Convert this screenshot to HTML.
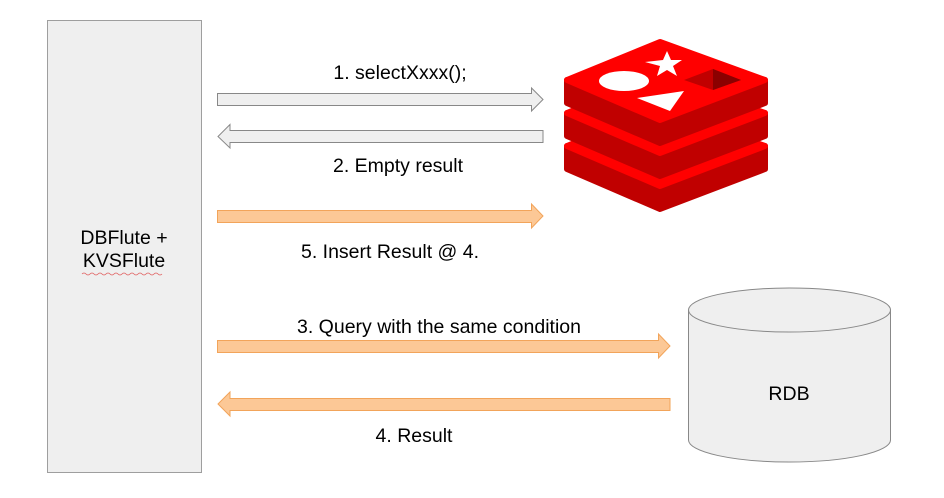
<!DOCTYPE html>
<html><head><style>
body{margin:0;background:#fff;width:944px;height:493px;overflow:hidden;font-family:"Liberation Sans",sans-serif;}
</style></head><body>
<svg width="944" height="493" xmlns="http://www.w3.org/2000/svg" font-family="Liberation Sans, sans-serif" font-size="19.5">
<rect x="47.5" y="20.5" width="154" height="452" fill="#efefef" stroke="#9e9e9e"/>
<text x="124" y="244" text-anchor="middle">DBFlute +</text>
<text x="124" y="267" text-anchor="middle">KVSFlute</text>
<path d="M82 274 q2 -2 4 0 t4 0 t4 0 t4 0 t4 0 t4 0 t4 0 t4 0 t4 0 t4 0 t4 0 t4 0 t4 0 t4 0 t4 0 t4 0 t4 0 t4 0 t4 0 t4 0" fill="none" stroke="#e06060" stroke-width="0.8"/>
<polygon points="217.5,93.5 531.5,93.5 531.5,88 543,99.5 531.5,111 531.5,105.5 217.5,105.5" fill="#efefef" stroke="#888"/>
<polygon points="543,130.5 230,130.5 230,124.5 218,136.5 230,148 230,142.5 543,142.5" fill="#efefef" stroke="#888"/>
<polygon points="217.5,210.5 531.5,210.5 531.5,204 543,216 531.5,228 531.5,222.5 217.5,222.5" fill="#fcc896" stroke="#f2a45a"/>
<polygon points="217.5,340.5 658.5,340.5 658.5,334 670,346 658.5,358 658.5,352.5 217.5,352.5" fill="#fcc896" stroke="#f2a45a"/>
<polygon points="670,398.5 230,398.5 230,392 218,404 230,416 230,410.5 670,410.5" fill="#fcc896" stroke="#f2a45a"/>
<text x="400" y="79" text-anchor="middle">1. selectXxxx();</text>
<text x="398" y="172" text-anchor="middle">2. Empty result</text>
<text x="390" y="258" text-anchor="middle">5. Insert Result @ 4.</text>
<text x="439" y="333" text-anchor="middle">3. Query with the same condition</text>
<text x="414" y="442" text-anchor="middle">4. Result</text>
<path d="M688.5 310 L688.5 440 A101 22 0 0 0 890.5 440 L890.5 310" fill="#efefef" stroke="#888"/>
<ellipse cx="789.5" cy="310" rx="101" ry="22" fill="#efefef" stroke="#888"/>
<text x="789" y="400" text-anchor="middle">RDB</text>
<g stroke-linejoin="round" stroke-width="6">
<g transform="translate(0,66)"><polygon points="567,80 660,122 765,80 765,103 660,143 567,103" fill="#c00000" stroke="#c00000"/><polygon points="567,80 660,42 765,80 660,120" fill="#ff0000" stroke="#ff0000"/></g>
<g transform="translate(0,33)"><polygon points="567,80 660,122 765,80 765,103 660,143 567,103" fill="#c00000" stroke="#c00000"/><polygon points="567,80 660,42 765,80 660,120" fill="#ff0000" stroke="#ff0000"/></g>
<polygon points="567,80 660,122 765,80 765,103 660,143 567,103" fill="#c00000" stroke="#c00000"/>
<polygon points="567,80 660,42 765,80 660,120" fill="#ff0000" stroke="#ff0000"/>
</g>
<ellipse cx="624" cy="81" rx="25" ry="10" fill="#fff"/>
<polygon points="637,98 684,91 670,111" fill="#fff"/>
<polygon points="667,51 671,60 682,60 673,66 677,76 667,70 657,76 660,66 645,62 663,60" fill="#fff"/>
<polygon points="684,80 713,69 741,80 713,90" fill="#c00000"/>
<polygon points="713,69 741,80 713,90" fill="#8b0000"/>
</svg>
</body></html>
